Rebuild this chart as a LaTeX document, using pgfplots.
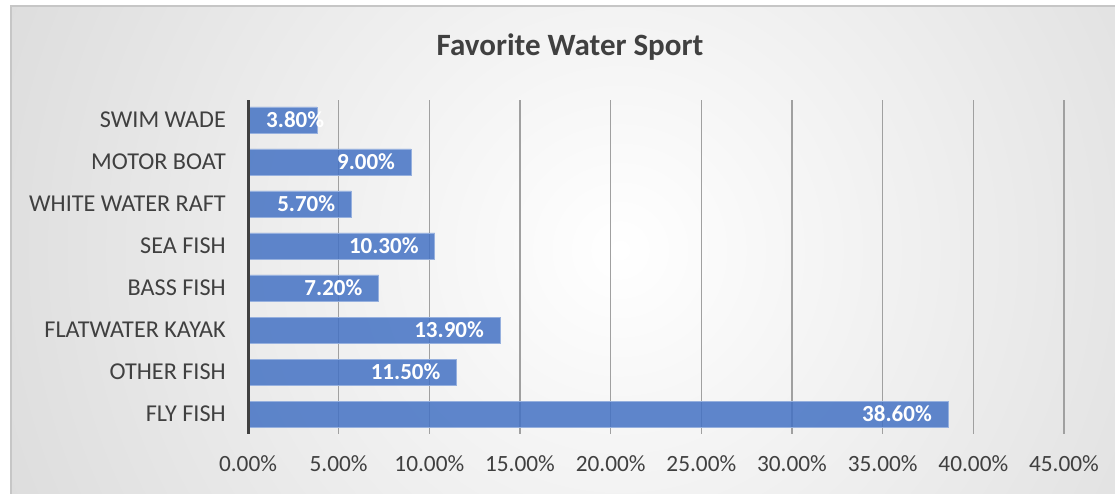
\documentclass[border=0pt]{standalone}
\usepackage{pgfplots}
\pgfplotsset{compat=1.18}
\usepackage{fontspec}
\setmainfont{Carlito}
\definecolor{txt}{RGB}{64,64,64}
\definecolor{barblue}{RGB}{68,114,196}
\definecolor{barline}{RGB}{150,176,222}
\definecolor{gridc}{RGB}{160,160,160}
\definecolor{bgout}{RGB}{188,188,188}
\begin{document}
\begin{tikzpicture}
\useasboundingbox (0pt,0pt) rectangle (1115pt,494pt);
\fill[white] (0pt,0pt) rectangle (1115pt,494pt);
\begin{scope}
\clip (11pt,0pt) rectangle (1115pt,488pt);
\shade[inner color=white, outer color=bgout] (620pt,244pt) circle (1300pt);
\end{scope}
\draw[gray!45, line width=1.5pt] (11pt,-2pt) -- (11pt,488pt) -- (1117pt,488pt);
\node[font=\bfseries\fontsize{31}{36}\selectfont, text=txt, anchor=base, inner sep=0pt] at (570pt,438pt) {Favorite Water Sport};
\begin{axis}[
  at={(248pt,60pt)}, anchor=south west,
  scale only axis, width=816pt, height=334pt,
  xmin=0, xmax=45, ymin=-0.476, ymax=7.476,
  axis line style={draw=none},
  major tick length=0pt,
  xtick={0,5,...,45},
  xticklabel={\pgfmathprintnumber[fixed,fixed zerofill,precision=2]{\tick}\%},
  /pgf/number format/assume math mode=true,
  xticklabel style={font=\fontsize{23.3}{27}\selectfont, text=txt, anchor=base, inner sep=0pt, yshift=-38pt},
  ytick={0,...,7},
  yticklabels={FLY FISH, OTHER FISH, FLATWATER KAYAK, BASS FISH, SEA FISH, WHITE WATER RAFT, MOTOR BOAT, SWIM WADE},
  yticklabel style={font=\fontsize{24.2}{28}\selectfont, text=txt, anchor=east, inner sep=0pt, xshift=-22pt},
  xmajorgrids, grid style={gridc, line width=1.3pt},
  clip=false,
]
\addplot[xbar, bar width=26pt, fill=barblue, fill opacity=0.85, draw=barline, line width=0.8pt]
  coordinates {(38.6,0) (11.5,1) (13.9,2) (7.2,3) (10.3,4) (5.7,5) (9.0,6) (3.8,7)};
\addplot[draw=none, mark=none, point meta=explicit symbolic, nodes near coords,
  every node near coord/.append style={font=\bfseries\fontsize{23}{27}\selectfont, text=white, anchor=base east, inner sep=0pt, xshift=-16pt, yshift=-7.3pt}]
  coordinates {(38.6,0) [38.60\%] (11.5,1) [11.50\%] (13.9,2) [13.90\%] (7.2,3) [7.20\%] (10.3,4) [10.30\%] (5.7,5) [5.70\%] (9.0,6) [9.00\%]};
\addplot[draw=none, mark=none, point meta=explicit symbolic, nodes near coords,
  every node near coord/.append style={font=\bfseries\fontsize{23}{27}\selectfont, text=white, anchor=base west, inner sep=0pt, xshift=18pt, yshift=-7.3pt}]
  coordinates {(0,7) [3.80\%]};
\draw[txt, line width=3pt] (rel axis cs:0,0) -- (rel axis cs:0,1);
\end{axis}
\end{tikzpicture}
\end{document}
